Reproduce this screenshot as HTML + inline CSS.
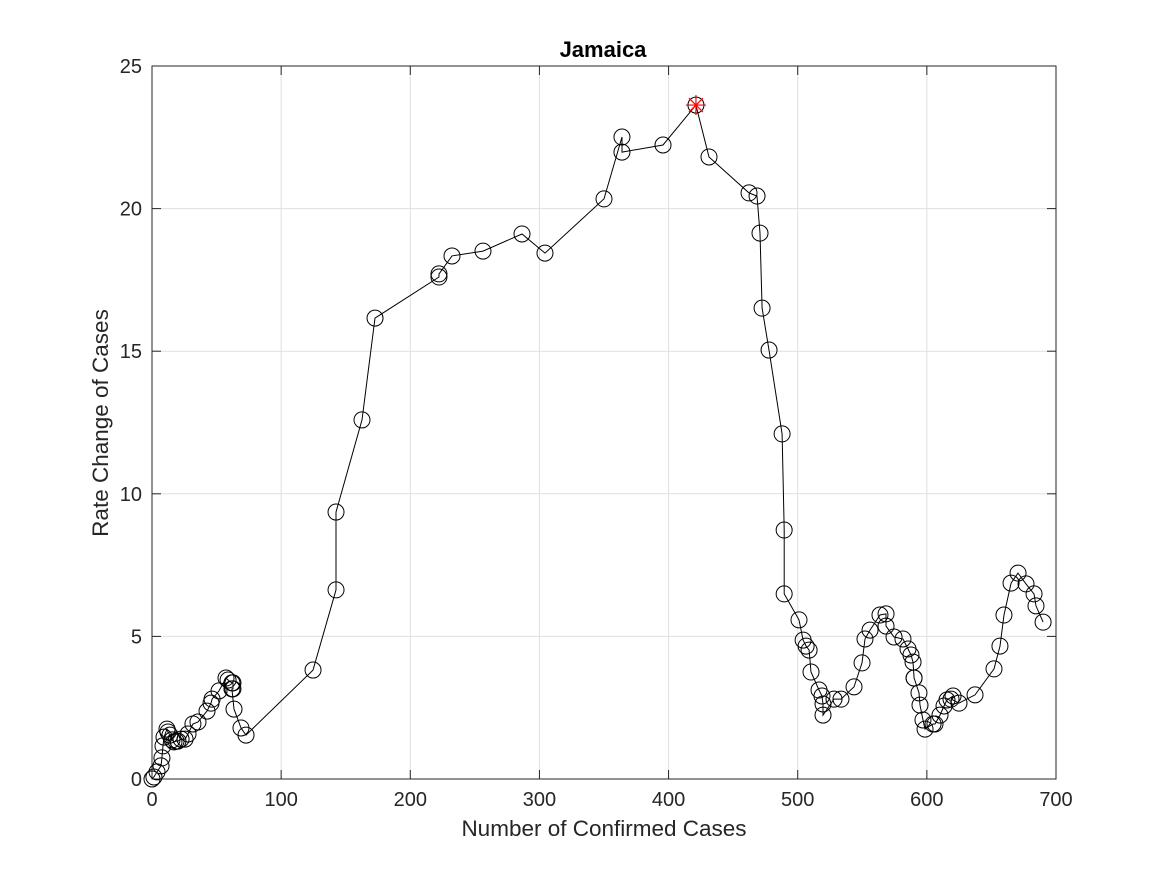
<!DOCTYPE html>
<html><head><meta charset="utf-8"><style>
html,body{margin:0;padding:0;background:#fff;}
svg{display:block;font-family:"Liberation Sans",sans-serif;}
</style></head><body>
<svg id="chart" width="1167" height="875">
<rect width="1167" height="875" fill="#fff"/>
<g id="grid"></g>
<rect x="152" y="66" width="904" height="713" fill="none" stroke="#262626" stroke-width="1"/>
<g id="ticks"></g>
<g id="series"></g>
<text x="603" y="57" text-anchor="middle" font-size="22" font-weight="bold" fill="#000">Jamaica</text>
<text x="604" y="836" text-anchor="middle" font-size="22.5" fill="#262626">Number of Confirmed Cases</text>
<text transform="translate(108,423) rotate(-90)" text-anchor="middle" font-size="22.5" fill="#262626">Rate Change of Cases</text>
</svg>
<script>
const xTicks = [0,100,200,300,400,500,600,700];
const yTicks = [0,5,10,15,20,25];
const casesX = [0,1.5,3.9,7,7.7,8.5,9.3,11.6,12.4,13.9,15.5,17,18.6,20.1,22.5,25.6,27.9,31.7,35.6,42.6,45.7,46.5,51.9,57.3,58.9,61.9,62.7,62.7,61.9,63.5,68.9,72.8,124.7,142.5,142.5,162.6,172.7,222.2,222.2,232.3,256.3,286.5,304.3,350,363.9,363.9,395.7,421.2,431.3,462.3,468.5,470.8,472.4,477.8,487.9,489.5,489.5,501,504.2,506.5,508.8,510.3,516.5,518.8,519.6,519.6,528.1,533.5,543.6,549.8,552.1,556,563.7,568.4,568.4,574.6,581.5,585.4,587.7,589.3,590.1,590.1,593.9,594.7,597,598.6,604.8,606.3,610.2,613.3,615.6,620.3,618.7,624.9,637.3,652,656.6,659.7,665.2,670.6,676.8,683,684.5,690];
const rateY = [0,0.07,0.25,0.46,0.74,1.16,1.47,1.75,1.65,1.54,1.37,1.3,1.33,1.33,1.4,1.4,1.58,1.93,2,2.38,2.66,2.8,3.09,3.54,3.47,3.37,3.37,3.16,3.16,2.45,1.79,1.54,3.82,6.63,9.36,12.59,16.16,17.6,17.71,18.34,18.51,19.11,18.44,20.34,22.51,21.98,22.23,23.63,21.81,20.55,20.44,19.14,16.51,15.04,12.1,8.73,6.49,5.58,4.87,4.66,4.52,3.75,3.12,2.91,2.63,2.24,2.8,2.8,3.23,4.07,4.91,5.22,5.75,5.79,5.36,4.98,4.91,4.56,4.35,4.1,3.54,3.54,3.02,2.59,2.07,1.75,1.93,1.93,2.24,2.56,2.77,2.91,2.8,2.66,2.95,3.86,4.66,5.75,6.87,7.22,6.84,6.49,6.07,5.5];
const peakIndex = 47;

const NS = "http://www.w3.org/2000/svg";
const X0=152, X1=1056, Y0=779, Y1=66;
function sx(v){ return X0 + (v-0)/(700-0)*(X1-X0); }
function sy(v){ return Y0 - (v-0)/(25-0)*(Y0-Y1); }
function mk(tag, attrs, parent){ const e=document.createElementNS(NS,tag); for(const k in attrs) e.setAttribute(k,attrs[k]); parent.appendChild(e); return e; }

const grid=document.getElementById('grid'), ticks=document.getElementById('ticks'), series=document.getElementById('series');
xTicks.forEach(t=>{
  const x=sx(t);
  const g=mk('line',{x1:x,x2:x,y1:Y1,y2:Y0,stroke:'#dfdfdf','stroke-width':1},grid);
  
  
  mk('line',{x1:x,x2:x,y1:Y0,y2:Y0-9,stroke:'#262626'},ticks);
  mk('line',{x1:x,x2:x,y1:Y1,y2:Y1+9,stroke:'#262626'},ticks);
  const l=mk('text',{x:x,y:Y0+27,'text-anchor':'middle','font-size':20,fill:'#262626'},ticks);
  l.textContent=t;
  
  
});
yTicks.forEach(t=>{
  const y=sy(t);
  const g=mk('line',{x1:X0,x2:X1,y1:y,y2:y,stroke:'#dfdfdf','stroke-width':1},grid);
  
  
  mk('line',{x1:X0,x2:X0+9,y1:y,y2:y,stroke:'#262626'},ticks);
  mk('line',{x1:X1,x2:X1-9,y1:y,y2:y,stroke:'#262626'},ticks);
  const l=mk('text',{x:X0-10,y:y+7,'text-anchor':'end','font-size':20,fill:'#262626'},ticks);
  l.textContent=t;
  
  
});
const pts=casesX.map((v,i)=>sx(v).toFixed(1)+','+sy(rateY[i]).toFixed(1)).join(' ');
const line=mk('polyline',{points:pts,fill:'none',stroke:'#000','stroke-width':1},series);


casesX.forEach((v,i)=>{
  const c=mk('circle',{cx:sx(v),cy:sy(rateY[i]),r:8,fill:'none',stroke:'#000','stroke-width':1},series);
  
  
});
const px=sx(casesX[peakIndex]), py=sy(rateY[peakIndex]);
const pk=mk('g',{stroke:'#ff0000','stroke-width':1.2},series);


mk('line',{x1:px-10,x2:px+10,y1:py,y2:py},pk);
mk('line',{x1:px,x2:px,y1:py-10,y2:py+10},pk);
mk('line',{x1:px-7,x2:px+7,y1:py-7,y2:py+7},pk);
mk('line',{x1:px-7,x2:px+7,y1:py+7,y2:py-7},pk);
</script>
</body></html>
